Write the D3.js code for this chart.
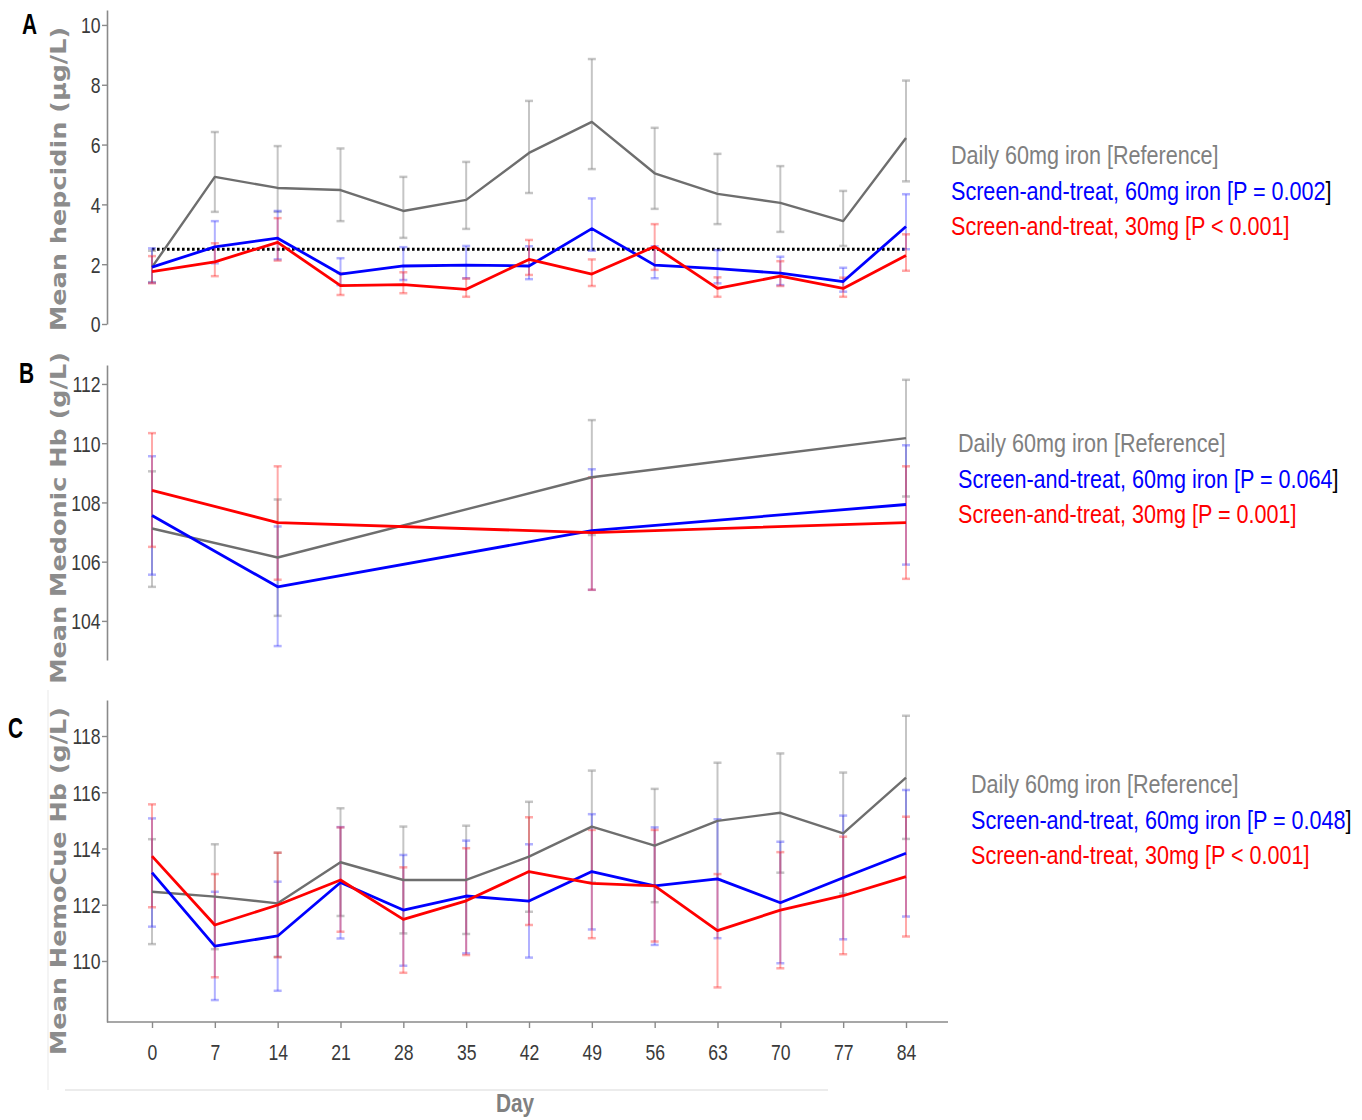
<!DOCTYPE html>
<html><head><meta charset="utf-8">
<script src="https://cdn.jsdelivr.net/npm/d3@7"></script>
<style>
body{margin:0;background:#fff;}
svg{display:block;}
</style></head>
<body><svg id="chart" width="1362" height="1120"></svg>
<script>
// ---------- DATA ----------
const daysAll = [0,7,14,21,28,35,42,49,56,63,70,77,84];
const daysB = [0,14,49,84];
const seriesNames = ["Daily 60mg iron [Reference]","Screen-and-treat, 60mg iron","Screen-and-treat, 30mg"];

// Panel A: hepcidin
const hepRef   = [1.90,4.92,4.55,4.48,3.78,4.15,5.72,6.76,5.04,4.35,4.05,3.44,6.22];
const hepRefLo = [1.40,3.75,3.75,3.44,2.88,3.18,4.38,5.18,3.85,3.34,3.08,2.61,4.77];
const hepRefHi = [2.45,6.42,5.95,5.87,4.92,5.42,7.46,8.86,6.56,5.69,5.28,4.45,8.14];
const hep60    = [1.90,2.58,2.87,1.67,1.94,1.97,1.94,3.19,1.97,1.85,1.70,1.42,3.26];
const hep60Lo  = [1.38,2.03,2.16,1.30,1.47,1.53,1.50,2.45,1.53,1.36,1.30,1.08,2.50];
const hep60Hi  = [2.53,3.44,3.78,2.20,2.57,2.61,2.60,4.20,2.60,2.47,2.25,1.88,4.34];
const hep30    = [1.75,2.08,2.73,1.28,1.32,1.16,2.16,1.67,2.59,1.19,1.60,1.19,2.29];
const hep30Lo  = [1.36,1.60,2.12,0.97,1.03,0.91,1.64,1.27,1.81,0.91,1.27,0.91,1.78];
const hep30Hi  = [2.27,2.70,3.54,1.70,1.73,1.52,2.81,2.16,3.34,1.56,2.10,1.55,3.00];
const hepThreshold = 2.5;
const hepTicks = [0,2,4,6,8,10];
const hepP = ["0.002","< 0.001"];

// Panel B: Medonic Hb
const medRef   = [107.12,106.14,108.85,110.17];
const medRefLo = [105.15,104.17,106.90,108.20];
const medRefHi = [109.05,108.10,110.78,112.14];
const med60    = [107.56,105.15,107.05,107.93];
const med60Lo  = [105.56,103.15,105.05,105.90];
const med60Hi  = [109.56,107.19,109.12,109.93];
const med30    = [108.41,107.32,106.98,107.32];
const med30Lo  = [106.50,105.39,105.05,105.42];
const med30Hi  = [110.34,109.22,108.85,109.22];
const medTicks = [104,106,108,110,112];
const medP = ["0.064","0.001"];

// Panel C: HemoCue Hb
const hcRef   = [112.46,112.29,112.05,113.51,112.88,112.88,113.71,114.78,114.10,114.98,115.27,114.54,116.52];
const hcRefLo = [110.60,110.42,110.15,111.60,110.98,110.96,111.75,112.79,112.09,112.90,113.14,112.40,114.34];
const hcRefHi = [114.33,114.15,113.85,115.43,114.78,114.81,115.66,116.77,116.12,117.05,117.38,116.70,118.72];
const hc60    = [113.14,110.53,110.89,112.79,111.81,112.31,112.13,113.18,112.67,112.92,112.07,112.96,113.83];
const hc60Lo  = [111.22,108.61,108.94,110.80,109.83,110.27,110.12,111.12,110.57,110.81,109.92,110.77,111.58];
const hc60Hi  = [115.07,112.46,112.82,114.76,113.77,114.28,114.15,115.22,114.75,115.04,114.24,115.17,116.08];
const hc30    = [113.73,111.28,111.99,112.88,111.48,112.14,113.18,112.76,112.67,111.08,111.81,112.32,113.00];
const hc30Lo  = [111.91,109.42,110.13,111.04,109.58,110.21,111.28,110.81,110.69,109.06,109.74,110.24,110.87];
const hc30Hi  = [115.57,113.09,113.85,114.75,113.33,114.01,115.11,114.66,114.66,113.09,113.87,114.42,115.13];
const hcTicks = [110,112,114,116,118];
const hcP = ["0.048","< 0.001"];
const xTickLabels = daysAll.map(String);

// ---------- STYLES ----------
const lineCol = ["#6e6e6e","#0000ff","#ff0000"];
const errCol  = ["rgba(150,150,150,0.55)","rgba(60,60,255,0.40)","rgba(255,40,40,0.40)"];
const legCol  = ["#808080","#0000ff","#ff0000"];
const SQ = 0.8; // horizontal squeeze of text, as in the reference image

const svg = d3.select("#chart");
const x = d3.scaleLinear().domain([0,84]).range([152,906]);

// faint frame around plotting area
svg.append("line").attr("x1",48).attr("x2",48).attr("y1",690).attr("y2",1090).attr("stroke","#f0f0f0").attr("stroke-width",1.5);
svg.append("line").attr("x1",65).attr("x2",828).attr("y1",1090).attr("y2",1090).attr("stroke","#e6e6e6").attr("stroke-width",1.5);

function sqText(sel, x0, y0, s){
  return sel.append("text").attr("transform",`translate(${x0},${y0}) scale(${s||SQ},1)`);
}

function panel(cfg){
  const y = d3.scaleLinear().domain(cfg.domain).range(cfg.range);
  const g = svg.append("g");
  // y axis
  const ax = g.append("g").attr("transform","translate(107,0)")
    .call(d3.axisLeft(y).tickValues(cfg.ticks).tickSize(5).tickSizeOuter(0).tickFormat(d3.format("d")));
  ax.select(".domain").attr("stroke","#8a8a8a").attr("stroke-width",1.6);
  ax.selectAll(".tick line").attr("stroke","#8a8a8a").attr("stroke-width",1.4);
  ax.selectAll(".tick text").attr("font-family","'Liberation Sans', Arial, sans-serif")
    .attr("font-size",22).attr("fill","#3a3a3a").attr("x",-8).attr("dy","0.36em")
    .attr("transform",`scale(${SQ},1)`);

  // y title
  g.append("text").attr("transform",`translate(${cfg.titleX},${cfg.titleY}) rotate(-90) scale(1,0.82)`)
    .attr("text-anchor","middle").attr("font-family","'DejaVu Sans', Verdana, sans-serif")
    .attr("font-weight","bold").attr("font-size",cfg.titleSize).attr("fill","#8c8c8c").text(cfg.title);

  // panel letter
  sqText(g, cfg.letterX, cfg.letterY, 0.72)
    .attr("font-family","'Liberation Sans', Arial, sans-serif").attr("font-weight","bold")
    .attr("font-size",29).attr("fill","#000").text(cfg.letter);

  // threshold
  if(cfg.threshold!==undefined){
    g.append("line").attr("x1",x(0)).attr("x2",x(84)).attr("y1",y(cfg.threshold)).attr("y2",y(cfg.threshold))
      .attr("stroke","#000").attr("stroke-width",3).attr("stroke-dasharray","2.6 2.4");
  }

  const line = d3.line().x(d=>x(d.day)).y(d=>y(d.v));
  cfg.series.forEach((s,i)=>{
    const pts = cfg.days.map((d,k)=>({day:d,v:s.m[k],lo:s.lo[k],hi:s.hi[k]}));
    const eg = g.append("g");
    pts.forEach(p=>{
      eg.append("line").attr("x1",x(p.day)).attr("x2",x(p.day)).attr("y1",y(p.lo)).attr("y2",y(p.hi))
        .attr("stroke",errCol[i]).attr("stroke-width",2);
      [p.lo,p.hi].forEach(v=>{
        eg.append("line").attr("x1",x(p.day)-4).attr("x2",x(p.day)+4).attr("y1",y(v)).attr("y2",y(v))
          .attr("stroke",errCol[i]).attr("stroke-width",2.5);
      });
    });
  });
  cfg.series.forEach((s,i)=>{
    const pts = cfg.days.map((d,k)=>({day:d,v:s.m[k]}));
    g.append("path").datum(pts).attr("d",line).attr("fill","none")
      .attr("stroke",lineCol[i]).attr("stroke-width",i===0?2.4:2.8).attr("stroke-linejoin","round");
  });

  // legend
  const lg = g.append("g").attr("font-family","'Liberation Sans', Arial, sans-serif").attr("font-size",26.5);
  sqText(lg, cfg.legX, cfg.legY, 0.815).attr("fill",legCol[0]).text(seriesNames[0]);
  const t2 = sqText(lg, cfg.legX, cfg.legY+35.5, 0.815);
  t2.append("tspan").attr("fill",legCol[1]).text(`${seriesNames[1]} [P = ${cfg.p[0]}`);
  t2.append("tspan").attr("fill","#000").text("]");
  const p2 = cfg.p[1].startsWith("<") ? `[P ${cfg.p[1]}]` : `[P = ${cfg.p[1]}]`;
  sqText(lg, cfg.legX, cfg.legY+71, 0.815).attr("fill",legCol[2]).text(`${seriesNames[2]} ${p2}`);
  return y;
}

panel({letter:"A",letterX:22,letterY:34,domain:[0,10.5],range:[324,10],ticks:hepTicks,
  title:"Mean hepcidin (µg/L)",titleX:66,titleY:179,titleSize:25.5,threshold:hepThreshold,
  days:daysAll,series:[{m:hepRef,lo:hepRefLo,hi:hepRefHi},{m:hep60,lo:hep60Lo,hi:hep60Hi},{m:hep30,lo:hep30Lo,hi:hep30Hi}],
  legX:951,legY:164,p:hepP});

panel({letter:"B",letterX:19,letterY:383,domain:[102.68,112.64],range:[660,365],ticks:medTicks,
  title:"Mean Medonic Hb (g/L)",titleX:66,titleY:518,titleSize:25.5,
  days:daysB,series:[{m:medRef,lo:medRefLo,hi:medRefHi},{m:med60,lo:med60Lo,hi:med60Hi},{m:med30,lo:med30Lo,hi:med30Hi}],
  legX:958,legY:452,p:medP});

panel({letter:"C",letterX:8,letterY:738,domain:[107.83,119.28],range:[1022,700],ticks:hcTicks,
  title:"Mean HemoCue Hb (g/L)",titleX:66,titleY:881,titleSize:25.5,
  days:daysAll,series:[{m:hcRef,lo:hcRefLo,hi:hcRefHi},{m:hc60,lo:hc60Lo,hi:hc60Hi},{m:hc30,lo:hc30Lo,hi:hc30Hi}],
  legX:971,legY:793,p:hcP});

// x axis for panel C
const xa = svg.append("g").attr("transform","translate(0,1022)")
  .call(d3.axisBottom(x).tickValues(daysAll).tickSize(6).tickSizeOuter(0).tickFormat((d,i)=>xTickLabels[i]));
xa.select(".domain").remove();
svg.append("line").attr("x1",107).attr("x2",948).attr("y1",1022).attr("y2",1022).attr("stroke","#8a8a8a").attr("stroke-width",1.6);
xa.selectAll(".tick line").attr("stroke","#8a8a8a").attr("stroke-width",1.4);
xa.selectAll(".tick text").attr("font-family","'Liberation Sans', Arial, sans-serif")
  .attr("font-size",22).attr("fill","#3a3a3a").attr("y",22).attr("transform",`scale(${SQ},1)`);
sqText(svg, 515, 1112, 0.8).attr("text-anchor","middle")
  .attr("font-family","'Liberation Sans', Arial, sans-serif").attr("font-weight","bold")
  .attr("font-size",26).attr("fill","#808080").text("Day");
</script></body></html>
